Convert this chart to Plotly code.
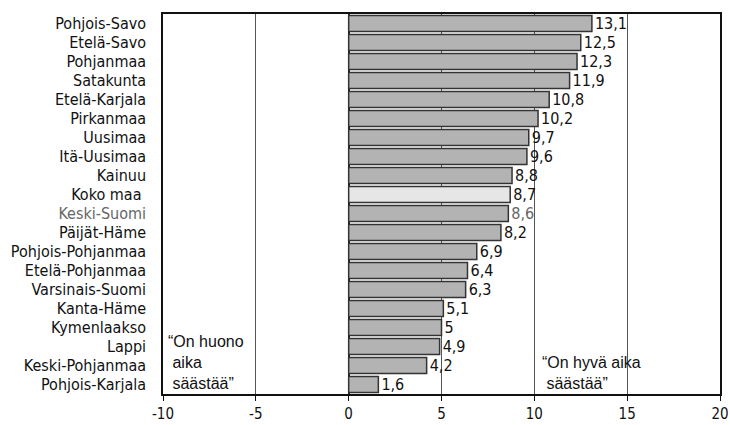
import plotly.graph_objects as go

regions = ["Pohjois-Savo", "Etelä-Savo", "Pohjanmaa", "Satakunta", "Etelä-Karjala",
           "Pirkanmaa", "Uusimaa", "Itä-Uusimaa", "Kainuu", "Koko maa", "Keski-Suomi",
           "Päijät-Häme", "Pohjois-Pohjanmaa", "Etelä-Pohjanmaa", "Varsinais-Suomi",
           "Kanta-Häme", "Kymenlaakso", "Lappi", "Keski-Pohjanmaa", "Pohjois-Karjala"]
values = [13.1, 12.5, 12.3, 11.9, 10.8, 10.2, 9.7, 9.6, 8.8, 8.7, 8.6, 8.2, 6.9, 6.4,
          6.3, 5.1, 5.0, 4.9, 4.2, 1.6]
x_ticks = [-10, -5, 0, 5, 10, 15, 20]

FONT = "DejaVu Sans Condensed, Liberation Sans Narrow, sans-serif"

bar_colors = ["#e6e6e6" if r == "Koko maa" else "#b3b3b3" for r in regions]
label_colors = ["#666666" if r == "Keski-Suomi" else "#111111" for r in regions]
texts = [("%g" % v).replace(".", ",") for v in values]
ticktext = []
for r in regions:
    if r == "Keski-Suomi":
        ticktext.append('<span style="color:#666666">' + r + '</span>')
    elif r == "Koko maa":
        ticktext.append(r + " ")
    else:
        ticktext.append(r)

fig = go.Figure(go.Bar(
    y=regions, x=values, orientation="h",
    marker=dict(color=bar_colors, line=dict(color="#333333", width=1.5)),
    text=texts, textposition="outside", cliponaxis=False, constraintext="none",
    textfont=dict(family=FONT, size=16, color=label_colors),
    hoverinfo="skip",
))

fig.update_layout(
    width=730, height=425,
    margin=dict(l=163, r=10, t=14, b=31),
    plot_bgcolor="white", paper_bgcolor="white",
    bargap=0.16, showlegend=False,
    font=dict(family=FONT, color="#111111"),
    xaxis=dict(range=[-10, 20], tickvals=x_ticks, ticktext=[str(t) for t in x_ticks],
               showgrid=True, gridcolor="#555555", gridwidth=1,
               zeroline=True, zerolinecolor="#222222", zerolinewidth=1.5,
               showline=True, linecolor="#111111", linewidth=1.5, mirror=True,
               ticks="outside", ticklen=5, tickcolor="#111111", automargin=False,
               tickfont=dict(family=FONT, size=15, color="#111111")),
    yaxis=dict(categoryorder="array", categoryarray=regions, range=[19.5, -0.5],
               tickvals=regions, ticktext=ticktext, automargin=False,
               showline=True, linecolor="#111111", linewidth=1.5, mirror=True,
               ticks="", ticklabelstandoff=12,
               tickfont=dict(family=FONT, size=16, color="#111111")),
)

fig.add_annotation(x=-9.85, y=19.5, xref="x", yref="y", xanchor="left", yanchor="bottom",
                   text="“On huono<br> aika<br> säästää”", showarrow=False, align="left",
                   font=dict(family="Liberation Sans, Arial, sans-serif", size=16, color="#111111"))
fig.add_annotation(x=10.3, y=19.5, xref="x", yref="y", xanchor="left", yanchor="bottom",
                   text="“On hyvä aika<br> säästää”", showarrow=False, align="left",
                   font=dict(family="Liberation Sans, Arial, sans-serif", size=16, color="#111111"))

fig.write_html("out.html", config={"displayModeBar": False},
               post_script="document.body.style.margin='0';document.body.style.overflow='hidden';")
